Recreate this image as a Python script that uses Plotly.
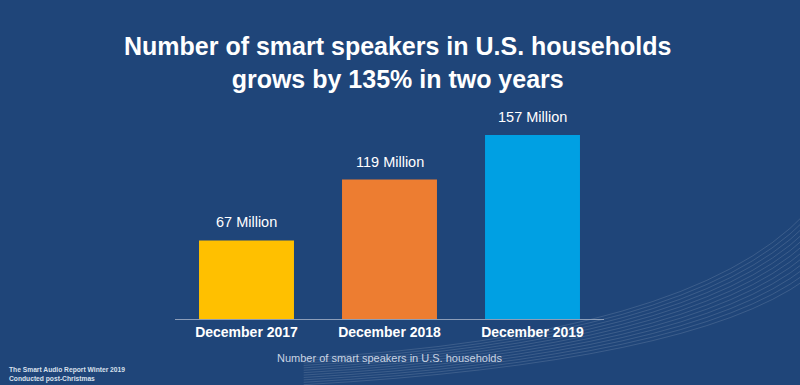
import plotly.graph_objects as go

categories = ["December 2017", "December 2018", "December 2019"]
values = [67, 119, 157]
value_labels = ["67 Million", "119 Million", "157 Million"]
bar_colors = ["#FFC000", "#ED7D31", "#00A0E3"]

BG = "#1F4579"
FONT = "Liberation Sans, Arial, sans-serif"

fig = go.Figure()
fig.add_trace(go.Bar(
    x=categories, y=values,
    marker=dict(color=bar_colors, line=dict(width=0)),
    hoverinfo="skip",
))

for c, v, t in zip(categories, values, value_labels):
    fig.add_annotation(x=c, y=v, text=t, showarrow=False, yanchor="bottom",
                       yshift=8, font=dict(family=FONT, size=14.5, color="white"))

# title (positions in plot-area paper units; plot area spans x 175..604, y 100..319)
fig.add_annotation(xref="paper", yref="paper", x=(397 - 175) / 429, y=1 + (100 - 62.5) / 219,
                   xanchor="center", yanchor="middle",
                   text="<b>Number of smart speakers in U.S. households<br>grows by 135% in two years</b>",
                   showarrow=False, font=dict(family=FONT, size=25, color="white"))

# footnote
fig.add_annotation(xref="paper", yref="paper", x=(7 - 175) / 429, y=(319 - 385) / 219,
                   xanchor="left", yanchor="bottom",
                   text="<b>The Smart Audio Report Winter 2019<br>Conducted post-Christmas</b>",
                   showarrow=False, align="left",
                   font=dict(family=FONT, size=6.7, color="#D8E0EC"))

fig.update_layout(
    width=800, height=385,
    paper_bgcolor=BG, plot_bgcolor=BG,
    margin=dict(l=175, r=196, t=100, b=66),
    bargap=0.336,
    showlegend=False,
    font=dict(family=FONT, color="white"),
    xaxis=dict(
        range=[-0.5, 2.5], showline=True, linecolor="#8C9DB8", linewidth=1,
        showgrid=False, ticks="", zeroline=False,
        tickfont=dict(family=FONT, size=14, color="white", weight="bold"),
        title=dict(text="Number of smart speakers in U.S. households",
                   font=dict(family=FONT, size=11, color="#C9D3E2"), standoff=15),
        fixedrange=True,
    ),
    yaxis=dict(range=[0, 186.9], visible=False, showgrid=False, zeroline=False, fixedrange=True),
)

# subtle decorative wave lines in the lower-right corner
for i in range(12):
    off = i * 0.011
    fig.add_shape(type="path", xref="paper", yref="paper", layer="below",
                  path=f"M 0.30,{-0.30+off} Q 1.20,{-0.20+off} 1.47,{0.18+off*2.5}",
                  line=dict(color="rgba(255,255,255,0.13)", width=1))

fig.write_html("out.html", config={"displayModeBar": False},
               post_script="document.body.style.margin='0';")
